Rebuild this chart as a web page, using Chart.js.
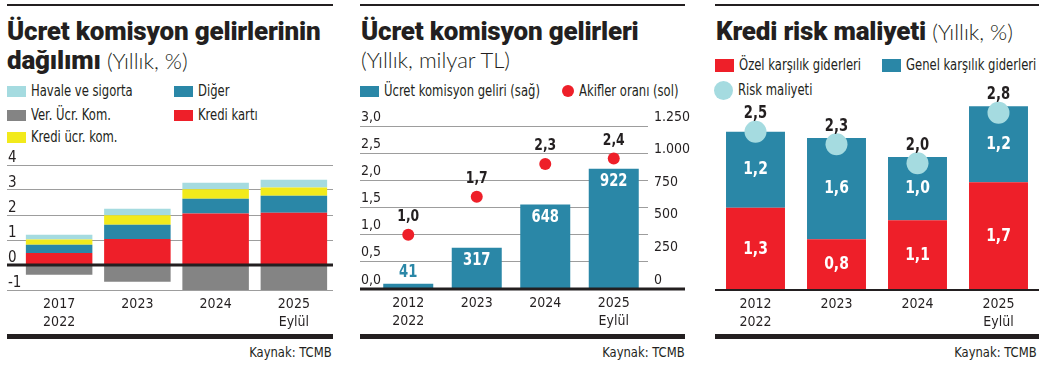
<!DOCTYPE html>
<html lang="tr">
<head>
<meta charset="utf-8">
<script src="https://cdn.jsdelivr.net/npm/chart.js@4.4.1/dist/chart.umd.min.js"></script>
<style>
html, body { margin:0; padding:0; background:#fff; }
body { width:1047px; height:368px; position:relative; overflow:hidden; color:#231f20;
       font-family:"Liberation Sans Narrow","DejaVu Sans Condensed",sans-serif; }
.abs { position:absolute; white-space:nowrap; }
.rule { position:absolute; background:#231f20; }
.title { font-family:Roboto,sans-serif; font-weight:900; font-size:26px; line-height:30px; letter-spacing:-0.2px; }
.sub { font-family:Lato,sans-serif; font-weight:300; font-size:22px; letter-spacing:0; }
.leg { font-size:15px; line-height:18px; transform:scaleX(0.86); transform-origin:0 50%; }
.src { font-size:14px; line-height:16px; transform:scaleX(0.92); transform-origin:100% 50%; }
.kutu { position:absolute; }
</style>
</head>
<body>

<div class="rule" style="left:7px;top:4px;width:326px;height:2px"></div>
<div class="rule" style="left:360px;top:4px;width:325px;height:2px"></div>
<div class="rule" style="left:715px;top:4px;width:324px;height:2px"></div>

<div class="abs title" style="left:7px;top:16px">Ücret komisyon gelirlerinin</div>
<div class="abs title" style="left:7px;top:45px">dağılımı <span class="sub">(Yıllık, %)</span></div>
<div class="abs title" style="left:361px;top:16px">Ücret komisyon gelirleri</div>
<div class="abs sub" style="left:361px;top:47px;line-height:26px">(Yıllık, milyar TL)</div>
<div class="abs title" style="left:716px;top:16px">Kredi risk maliyeti <span class="sub">(Yıllık, %)</span></div>

<div id="legend"></div>

<div class="kutu" style="left:0px;top:150px"><canvas id="c1" width="340" height="180"></canvas></div>
<div class="kutu" style="left:350px;top:110px"><canvas id="c2" width="345" height="220"></canvas></div>
<div class="kutu" style="left:704px;top:80px"><canvas id="c3" width="346" height="250"></canvas></div>

<div class="rule" style="left:7px;top:334px;width:326px;height:5px"></div>
<div class="rule" style="left:360px;top:334px;width:325px;height:5px"></div>
<div class="rule" style="left:715px;top:334px;width:324px;height:5px"></div>

<div class="abs src" style="right:715px;top:344px">Kaynak: TCMB</div>
<div class="abs src" style="right:362px;top:344px">Kaynak: TCMB</div>
<div class="abs src" style="right:10px;top:344px">Kaynak: TCMB</div>

<script>
// --- veriler ---
// Ücret komisyon gelirlerinin dağılımı (%)
var yillar1 = [['2017', '2022'], '2023', '2024', ['2025', 'Eylül']];
var krediKarti = [0.48, 1.04, 2.06, 2.09];
var diger = [0.33, 0.57, 0.59, 0.68];
var krediUcrKom = [0.21, 0.38, 0.38, 0.33];
var havaleSigorta = [0.19, 0.26, 0.26, 0.31];
var verUcrKom = [-0.39, -0.67, -1.0, -1.0];
var dagilimTicks = [-1, 0, 1, 2, 3, 4];

// Ücret komisyon gelirleri
var yillar2 = [['2012', '2022'], '2023', '2024', ['2025', 'Eylül']];
var ucretGeliri = [41, 317, 648, 922];       // milyar TL (sağ)
var akiflereOrani = [1.0, 1.7, 2.3, 2.4];    // % (sol)
var solTicks = [0, 0.5, 1, 1.5, 2, 2.5, 3];
var sagTicks = [0, 250, 500, 750, 1000, 1250];

// Kredi risk maliyeti
var yillar3 = [['2012', '2022'], '2023', '2024', ['2025', 'Eylül']];
var ozelKarsilik = [1.3, 0.8, 1.1, 1.7];
var genelKarsilik = [1.2, 1.6, 1.0, 1.2];
var riskMaliyeti = [2.5, 2.3, 2.0, 2.8];

var KIRMIZI = '#ee1f29', MAVI = '#2a87a7', ACIK = '#a5dbe0', GRI = '#848484', SARI = '#f2ea1b';
var DAR = '"Liberation Sans Narrow","DejaVu Sans Condensed",sans-serif';
var KOYU = '#231f20';

Chart.defaults.font.family = DAR;
Chart.defaults.font.size = 14;
Chart.defaults.color = KOYU;

function virgul(v) { return v.toFixed(1).replace('.', ','); }
function binlik(v) { return String(v).replace(/\B(?=(\d{3})+(?!\d))/g, '.'); }

// lejant (html)
var lejant = [
    {ad: 'Havale ve sigorta', renk: ACIK, x: 7, y: 91, t: 'kare'},
    {ad: 'Diğer', renk: MAVI, x: 174, y: 91, t: 'kare'},
    {ad: 'Ver. Ücr. Kom.', renk: GRI, x: 7, y: 115, t: 'kare'},
    {ad: 'Kredi kartı', renk: KIRMIZI, x: 174, y: 115, t: 'kare'},
    {ad: 'Kredi ücr. kom.', renk: SARI, x: 7, y: 137, t: 'kare'},
    {ad: 'Ücret komisyon geliri (sağ)', renk: MAVI, x: 360, y: 91, t: 'kare'},
    {ad: 'Akifler oranı (sol)', renk: KIRMIZI, x: 562, y: 91, t: 'nokta', r: 6},
    {ad: 'Özel karşılık giderleri', renk: KIRMIZI, x: 715, y: 65, t: 'kare', h: 13},
    {ad: 'Genel karşılık giderleri', renk: MAVI, x: 882, y: 65, t: 'kare', h: 13},
    {ad: 'Risk maliyeti', renk: ACIK, x: 714, y: 90, t: 'nokta', r: 9.5}
];
var lg = document.getElementById('legend');
lejant.forEach(function (l) {
    var s = document.createElement('div');
    s.style.position = 'absolute';
    s.style.background = l.renk;
    var metinX;
    if (l.t === 'kare') {
        var h = l.h || 11;
        s.style.left = l.x + 'px'; s.style.top = (l.y - h / 2) + 'px';
        s.style.width = '19px'; s.style.height = h + 'px';
        metinX = l.x + 24;
    } else {
        s.style.left = l.x + 'px'; s.style.top = (l.y - l.r) + 'px';
        s.style.width = (2 * l.r) + 'px'; s.style.height = (2 * l.r) + 'px';
        s.style.borderRadius = '50%';
        metinX = l.x + 2 * l.r + 5;
    }
    lg.appendChild(s);
    var m = document.createElement('div');
    m.className = 'abs leg';
    m.style.left = metinX + 'px';
    m.style.top = (l.y - 9) + 'px';
    m.textContent = l.ad;
    lg.appendChild(m);
});

// sıfır çizgisi (barların üstüne)
var taban = {
    id: 'taban',
    afterDatasetsDraw(chart, args, o) {
        var y = chart.scales[o.scale].getPixelForValue(0);
        var ctx = chart.ctx;
        ctx.save();
        ctx.strokeStyle = KOYU;
        ctx.lineWidth = o.w;
        ctx.beginPath();
        ctx.moveTo(o.x1, y);
        ctx.lineTo(o.x2, y);
        ctx.stroke();
        ctx.restore();
    }
};

// değer etiketleri
var etiket = {
    id: 'etiket',
    afterDatasetsDraw(chart, args, o) {
        var ctx = chart.ctx;
        o.items.forEach(function (it) {
            var meta = chart.getDatasetMeta(it.index);
            var vals = chart.data.datasets[it.index].data;
            meta.data.forEach(function (el, i) {
                var y, renk = it.color;
                if (it.mode === 'orta') {
                    y = (el.y + el.base) / 2;
                } else if (it.mode === 'ic') {
                    if (Math.abs(el.base - el.y) > 28) { y = el.y + 13; }
                    else { y = el.y - 11; renk = it.dis; }
                } else {
                    y = el.y - it.offset;
                }
                ctx.save();
                ctx.font = 'bold ' + it.size + 'px ' + DAR;
                ctx.textAlign = 'center';
                ctx.textBaseline = 'middle';
                ctx.fillStyle = renk;
                ctx.translate(el.x, y);
                ctx.scale(0.86, 1);
                ctx.fillText(it.format(vals[i]), 0, 0);
                ctx.restore();
            });
        });
    }
};

var xEksen = {
    grid: {display: false, drawTicks: false},
    border: {display: false},
    ticks: {padding: 5, font: {size: 14, lineHeight: 1.3}, color: KOYU}
};

// 1) dağılım
new Chart(document.getElementById('c1'), {
    type: 'bar',
    data: {
        labels: yillar1,
        datasets: [
            {label: 'Kredi kartı', data: krediKarti, backgroundColor: KIRMIZI},
            {label: 'Diğer', data: diger, backgroundColor: MAVI},
            {label: 'Kredi ücr. kom.', data: krediUcrKom, backgroundColor: SARI},
            {label: 'Havale ve sigorta', data: havaleSigorta, backgroundColor: ACIK},
            {label: 'Ver. Ücr. Kom.', data: verUcrKom, backgroundColor: GRI}
        ]
    },
    options: {
        responsive: false,
        animation: false,
        layout: {padding: {left: 7, right: 7, top: 15, bottom: 0}},
        datasets: {bar: {barPercentage: 0.85, categoryPercentage: 1, borderWidth: 0}},
        scales: {
            x: Object.assign({stacked: true, afterFit: function (s) { s.height = 40; }}, xEksen),
            y: {
                stacked: true, min: -1, max: 4,
                afterFit: function (s) { s.width = 13; },
                afterBuildTicks: function (s) { s.ticks = dagilimTicks.map(function (v) { return {value: v}; }); },
                border: {display: false},
                grid: {color: '#9d9d9d', lineWidth: 1, drawTicks: true, tickLength: 13},
                ticks: {mirror: true, padding: -12, labelOffset: -7, font: {size: 15}, color: KOYU}
            }
        },
        plugins: {
            legend: {display: false}, tooltip: {enabled: false},
            taban: {scale: 'y', x1: 7, x2: 333, w: 3}
        }
    },
    plugins: [taban]
});

// 2) ücret komisyon gelirleri
new Chart(document.getElementById('c2'), {
    type: 'bar',
    data: {
        labels: yillar2,
        datasets: [
            {type: 'line', label: 'Akifler oranı (sol)', data: akiflereOrani, yAxisID: 'y',
             showLine: false, pointRadius: 6, pointBackgroundColor: KIRMIZI, pointBorderWidth: 0, order: 0, clip: false},
            {label: 'Ücret komisyon geliri (sağ)', data: ucretGeliri, yAxisID: 'y1',
             backgroundColor: MAVI, barPercentage: 0.73, categoryPercentage: 1, order: 1}
        ]
    },
    options: {
        responsive: false,
        animation: false,
        layout: {padding: {left: 10, right: 0, top: 16, bottom: 0}},
        scales: {
            x: Object.assign({afterFit: function (s) { s.height = 41; }}, xEksen),
            y: {
                position: 'left', min: 0, max: 3,
                afterFit: function (s) { s.width = 14; },
                afterBuildTicks: function (s) { s.ticks = solTicks.map(function (v) { return {value: v}; }); },
                border: {display: false},
                grid: {color: '#9d9d9d', lineWidth: 1, drawTicks: true, tickLength: 14},
                ticks: {mirror: true, padding: -13, labelOffset: -9, font: {size: 14}, color: KOYU,
                        callback: function (v) { return virgul(v); }}
            },
            y1: {
                position: 'right', min: 0, max: 1250,
                afterFit: function (s) { s.width = 47; },
                afterBuildTicks: function (s) { s.ticks = sagTicks.map(function (v) { return {value: v}; }); },
                border: {display: false},
                grid: {drawOnChartArea: false, drawTicks: false},
                ticks: {padding: 6, labelOffset: -9, font: {size: 14}, color: KOYU,
                        callback: function (v) { return binlik(v); }}
            }
        },
        plugins: {
            legend: {display: false}, tooltip: {enabled: false},
            taban: {scale: 'y', x1: 10, x2: 335, w: 3},
            etiket: {items: [
                {index: 1, mode: 'ic', size: 17, color: '#ffffff', dis: MAVI, format: function (v) { return String(v); }},
                {index: 0, mode: 'ust', offset: 18, size: 16, color: KOYU, format: virgul}
            ]}
        }
    },
    plugins: [taban, etiket]
});

// 3) kredi risk maliyeti
new Chart(document.getElementById('c3'), {
    type: 'bar',
    data: {
        labels: yillar3,
        datasets: [
            {type: 'line', label: 'Risk maliyeti', data: riskMaliyeti, stack: 'risk',
             showLine: false, pointRadius: 11, pointBackgroundColor: ACIK, pointBorderWidth: 0, order: 0, clip: false},
            {label: 'Özel karşılık giderleri', data: ozelKarsilik, backgroundColor: KIRMIZI, stack: 'k', order: 1},
            {label: 'Genel karşılık giderleri', data: genelKarsilik, backgroundColor: MAVI, stack: 'k', order: 1}
        ]
    },
    options: {
        responsive: false,
        animation: false,
        layout: {padding: {left: 0, right: 0, top: 20, bottom: 0}},
        datasets: {bar: {barPercentage: 0.728, categoryPercentage: 1, borderWidth: 0}},
        scales: {
            x: Object.assign({stacked: true, afterFit: function (s) { s.height = 40; }}, xEksen),
            y: {stacked: true, min: 0, max: 3, display: false}
        },
        plugins: {
            legend: {display: false}, tooltip: {enabled: false},
            taban: {scale: 'y', x1: 11, x2: 335, w: 2},
            etiket: {items: [
                {index: 1, mode: 'orta', size: 18, color: '#ffffff', format: virgul},
                {index: 2, mode: 'orta', size: 18, color: '#ffffff', format: virgul},
                {index: 0, mode: 'ust', offset: 18, size: 17, color: KOYU, format: virgul}
            ]}
        }
    },
    plugins: [taban, etiket]
});
</script>
</body>
</html>
